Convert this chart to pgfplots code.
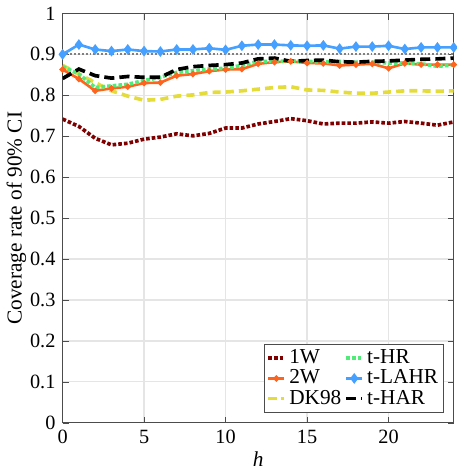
\documentclass[border=0pt]{standalone}
\usepackage{pgfplots}
\pgfplotsset{compat=1.18}
\usepackage{fontspec}
\setmainfont{Liberation Serif}

\definecolor{cMaroon}{RGB}{128,0,0}
\definecolor{cOrange}{RGB}{255,100,30}
\definecolor{cYellow}{RGB}{228,220,60}
\definecolor{cGreen}{RGB}{80,235,120}
\definecolor{cBlue}{RGB}{70,160,255}

\begin{document}
\begin{tikzpicture}[font=\rmfamily]
\begin{axis}[
  width=193pt, height=202pt, scale only axis,
  xmin=0, xmax=24, ymin=0, ymax=1,
  xtick={0,5,10,15,20},
  ytick={0,0.1,0.2,0.3,0.4,0.5,0.6,0.7,0.8,0.9,1},
  yticklabels={0,0.1,0.2,0.3,0.4,0.5,0.6,0.7,0.8,0.9,1},
  /pgf/number format/assume math mode=true,
  tick label style={font=\rmfamily\fontsize{10}{12}\selectfont},
  label style={font=\rmfamily\fontsize{10.5}{12}\selectfont},
  xlabel={\textit{h}},
  ylabel={Coverage rate of 90\% CI},
  ylabel style={yshift=-5pt},
  xlabel style={yshift=3pt},
  grid=major,
  major grid style={gray!20, line width=0.6pt},
  axis line style={black!70, line width=0.6pt},
  tick style={black!70},
  tick align=inside,
  major tick length=3pt,
  legend columns=3,
  transpose legend,
  legend style={at={(1,0)}, anchor=south east, xshift=-5pt, yshift=5pt,
    font=\rmfamily\fontsize{10.5}{11}\selectfont, draw=black!70, fill=white,
    inner sep=1pt, row sep=-1.5pt,
    nodes={inner sep=1.5pt},
    /tikz/every even column/.append style={column sep=0pt}},
  legend cell align=left,
  legend image code/.code={\draw[mark repeat=2,mark phase=2]
    plot coordinates {(0cm,0cm) (0.14cm,0cm) (0.28cm,0cm)};},
]
% 90% reference line
\addplot[gray, densely dotted, line width=0.9pt, forget plot] coordinates {(0,0.9) (24,0.9)};

\addplot[cMaroon, densely dotted, line width=1.8pt] coordinates {
(0,0.742) (1,0.724) (2,0.695) (3,0.679) (4,0.683) (5,0.693) (6,0.698) (7,0.706)
(8,0.701) (9,0.707) (10,0.720) (11,0.720) (12,0.730) (13,0.736) (14,0.743) (15,0.738)
(16,0.730) (17,0.732) (18,0.732) (19,0.735) (20,0.732) (21,0.736) (22,0.732) (23,0.727) (24,0.735)};
\addlegendentry{1W}

\addplot[cOrange, line width=1.3pt, mark=*, mark size=0.8pt] coordinates {
(0,0.863) (1,0.840) (2,0.811) (3,0.817) (4,0.821) (5,0.830) (6,0.831) (7,0.848)
(8,0.852) (9,0.859) (10,0.863) (11,0.864) (12,0.877) (13,0.881) (14,0.883) (15,0.879)
(16,0.878) (17,0.873) (18,0.875) (19,0.877) (20,0.866) (21,0.878) (22,0.875) (23,0.875) (24,0.875)};
\addlegendentry{2W}

\addplot[cYellow, dash pattern=on 4pt off 2.5pt, line width=1.8pt] coordinates {
(0,0.873) (1,0.852) (2,0.831) (3,0.811) (4,0.798) (5,0.788) (6,0.790) (7,0.798)
(8,0.801) (9,0.807) (10,0.808) (11,0.811) (12,0.815) (13,0.819) (14,0.821) (15,0.813)
(16,0.812) (17,0.808) (18,0.805) (19,0.805) (20,0.808) (21,0.811) (22,0.811) (23,0.810) (24,0.811)};
\addlegendentry{DK98}

\addplot[cGreen, densely dotted, line width=1.8pt] coordinates {
(0,0.870) (1,0.852) (2,0.819) (3,0.823) (4,0.827) (5,0.836) (6,0.844) (7,0.856)
(8,0.860) (9,0.864) (10,0.866) (11,0.873) (12,0.883) (13,0.883) (14,0.884) (15,0.883)
(16,0.881) (17,0.883) (18,0.881) (19,0.881) (20,0.879) (21,0.879) (22,0.877) (23,0.871) (24,0.874)};
\addlegendentry{t-HR}

\addplot[cBlue, line width=1.3pt, mark=diamond*, mark size=1.6pt] coordinates {
(0,0.900) (1,0.924) (2,0.912) (3,0.908) (4,0.912) (5,0.908) (6,0.907) (7,0.912)
(8,0.912) (9,0.915) (10,0.911) (11,0.921) (12,0.924) (13,0.924) (14,0.922) (15,0.921)
(16,0.922) (17,0.914) (18,0.919) (19,0.919) (20,0.921) (21,0.913) (22,0.917) (23,0.917) (24,0.917)};
\addlegendentry{t-LAHR}

\addplot[black, dash pattern=on 5pt off 2.5pt, line width=1.8pt] coordinates {
(0,0.841) (1,0.864) (2,0.848) (3,0.842) (4,0.846) (5,0.844) (6,0.844) (7,0.863)
(8,0.870) (9,0.873) (10,0.875) (11,0.879) (12,0.889) (13,0.891) (14,0.883) (15,0.885)
(16,0.886) (17,0.882) (18,0.881) (19,0.883) (20,0.884) (21,0.886) (22,0.888) (23,0.889) (24,0.891)};
\addlegendentry{t-HAR}
\end{axis}
\end{tikzpicture}
\end{document}
